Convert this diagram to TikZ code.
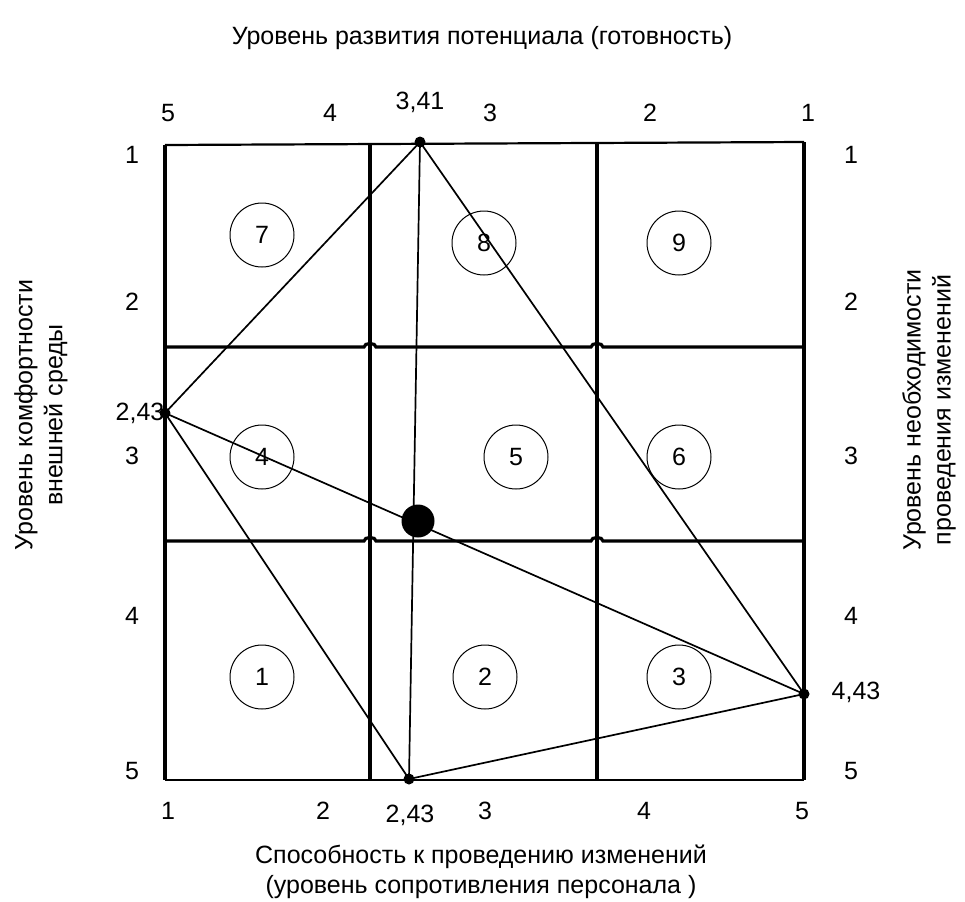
\documentclass[tikz,border=0pt]{standalone}
\usepackage{fontspec}
\setmainfont{Liberation Sans}
\usetikzlibrary{positioning}

\begin{document}
\begin{tikzpicture}[x=0.5pt, y=-0.5pt, font=\fontsize{12.5}{15}\selectfont,
    frame/.style={line width=1.6pt},
    edge/.style={line width=0.85pt},
    zone/.style={draw, circle, line width=0.5pt, minimum size=32pt, inner sep=0pt},
    dot/.style={fill, circle, inner sep=0pt, minimum size=5.5pt},
    bigdot/.style={fill, circle, inner sep=0pt, minimum size=16.5pt},
    scale label/.style={inner sep=1pt}]
    % ================= Canvas =================
    \path[use as bounding box] (0,0) rectangle (965,901);

    % ================= Grid =================
    % outer frame
    \draw[line width=1.1pt] (165,145) -- (804,142);
    \draw[line width=1.1pt] (165,780) -- (804,780);
    \draw[frame] (165,145) -- (165,780);
    \draw[frame] (804,142) -- (804,780);
    % inner verticals
    \draw[frame] (370,144) -- (370,780);
    \draw[frame] (597,143) -- (597,780);
    % inner horizontals, hopping over the verticals
    \foreach \y in {347,541}{
        \draw[frame] (165,\y) -- (364,\y) to[out=90, in=90] (376,\y)
            -- (591,\y) to[out=90, in=90] (603,\y) -- (804,\y);
    }

    % ================= Zones =================
    \node[zone] (z7) at (262,235) {7};
    \node[zone] (z8) at (484,243) {8};
    \node[zone] (z9) at (679,243) {9};
    \node[zone] (z4) at (262,457) {4};
    \node[zone] (z5) at (516,457) {5};
    \node[zone] (z6) at (679,457) {6};
    \node[zone] (z1) at (262,677) {1};
    \node[zone] (z2) at (485,677) {2};
    \node[zone] (z3) at (679,677) {3};

    % ================= Profile =================
    \node[dot] (top) at (420,142) {};
    \node[dot] (left) at (165,413) {};
    \node[dot] (bottom) at (409,779) {};
    \node[dot] (right) at (804,694) {};
    \node[bigdot] (centre) at (418,521) {};

    \draw[edge] (top.center) -- (left.center) -- (bottom.center)
        -- (right.center) -- (top.center);
    \draw[edge] (top.center) -- (bottom.center);
    \draw[edge] (left.center) -- (right.center);

    \node[scale label] at (420,102) {3,41};
    \node[scale label] at (140,413) {2,43};
    \node[scale label] at (410,815) {2,43};
    \node[scale label] at (856,692) {4,43};

    % ================= Scales =================
    % top: 5 ... 1
    \foreach \x/\t in {168/5, 330/4, 490/3, 650/2, 808/1}
        \node[scale label] at (\x,113) {\t};
    % bottom: 1 ... 5
    \foreach \x/\t in {168/1, 323/2, 485/3, 644/4, 802/5}
        \node[scale label] at (\x,811) {\t};
    % left and right: 1 ... 5
    \foreach \y/\t in {155/1, 302/2, 456/3, 616/4, 771/5}{
        \node[scale label] at (132,\y) {\t};
        \node[scale label] at (851,\y) {\t};
    }

    % ================= Titles =================
    \node (titletop) at (482,38) {Уровень развития потенциала (готовность)};
    \node[align=center] (titlebottom) at (481,872)
        {Способность к проведению изменений\\(уровень сопротивления персонала )};
    \node[rotate=90, align=center] (titleleft) at (41,415)
        {Уровень комфортности\\внешней среды};
    \node[rotate=90, align=center] (titleright) at (929,410)
        {Уровень необходимости\\проведения изменений};
\end{tikzpicture}
\end{document}
